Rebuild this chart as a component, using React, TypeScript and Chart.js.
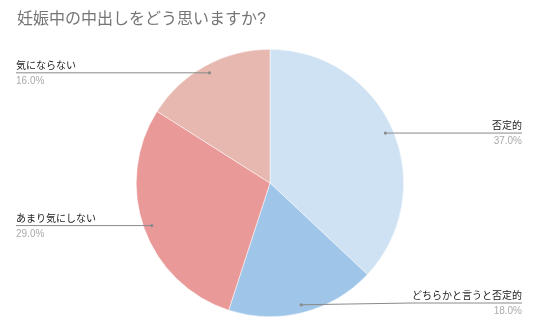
import React, { useEffect, useRef } from "react";
import { Chart, registerables } from "chart.js";

Chart.register(...registerables);

const TITLE = "妊娠中の中出しをどう思いますか?";
const categories = ["否定的", "どちらかと言うと否定的", "あまり気にしない", "気にならない"];
const values = [37.0, 18.0, 29.0, 16.0];
const colors = ["#cfe2f3", "#9fc5e8", "#ea9999", "#e6b8af"];

const FONT = "Arial, 'Liberation Sans', 'Noto Sans CJK JP', sans-serif";

const labelPlugin = {
  id: "sheetLabels",
  afterDraw(chart: any) {
    const ctx = chart.ctx;
    const meta = chart.getDatasetMeta(0);
    const total = values.reduce((a, b) => a + b, 0);
    ctx.save();
    // title
    ctx.font = `16px ${FONT}`;
    ctx.fillStyle = "#757575";
    ctx.textAlign = "left";
    ctx.textBaseline = "middle";
    ctx.fillText(TITLE, 17, 20);

    meta.data.forEach((arc: any, i: number) => {
      const p = arc.getProps(["x", "y", "startAngle", "endAngle", "outerRadius"], true);
      const mid = (p.startAngle + p.endAngle) / 2;
      const r = p.outerRadius * 0.94;
      const ax = p.x + Math.cos(mid) * r;
      const ay = p.y + Math.sin(mid) * r;
      const right = Math.cos(mid) >= 0;
      const lineY = Math.min(ay, chart.height - 31);
      const label = categories[i];
      const pct = ((values[i] / total) * 100).toFixed(1) + "%";
      ctx.font = `10px ${FONT}`;
      const tw = ctx.measureText(label).width;
      ctx.strokeStyle = "#8a8a8a";
      ctx.lineWidth = 1;
      ctx.beginPath();
      ctx.moveTo(ax, ay);
      if (right) {
        const xEnd = 522;
        if (Math.abs(lineY - ay) > 1) ctx.lineTo(xEnd - tw, lineY);
        ctx.lineTo(xEnd, lineY);
      } else {
        const xEnd = 16;
        if (Math.abs(lineY - ay) > 1) ctx.lineTo(xEnd + tw, lineY);
        ctx.lineTo(xEnd, lineY);
      }
      ctx.stroke();
      ctx.fillStyle = "#8a8a8a";
      ctx.beginPath();
      ctx.arc(ax, ay, 1.6, 0, Math.PI * 2);
      ctx.fill();

      ctx.textAlign = right ? "right" : "left";
      const tx = right ? 522 : 16;
      ctx.textBaseline = "alphabetic";
      ctx.fillStyle = "#222222";
      ctx.fillText(label, tx, lineY - 4);
      ctx.fillStyle = "#aaaaaa";
      ctx.fillText(pct, tx, lineY + 11);
    });
    ctx.restore();
  },
};

export default function App() {
  const ref = useRef<HTMLCanvasElement>(null);
  useEffect(() => {
    if (!ref.current) return;
    const chart = new Chart(ref.current, {
      type: "pie",
      data: {
        labels: categories,
        datasets: [
          {
            data: values,
            backgroundColor: colors,
            borderColor: "#ffffff",
            borderWidth: 0.5,
          },
        ],
      },
      options: {
        animation: false,
        responsive: false,
        events: [],
        layout: { padding: { top: 49, bottom: 17, left: 100, right: 100 } },
        plugins: {
          legend: { display: false },
          title: { display: false },
          tooltip: { enabled: false },
        },
      },
      plugins: [labelPlugin],
    });
    return () => chart.destroy();
  }, []);
  return (
    <div style={{ position: "fixed", left: 0, top: 0, width: 540, height: 334, background: "#fff" }}>
      <canvas ref={ref} width={540} height={334} style={{ width: 540, height: 334 }} />
    </div>
  );
}
